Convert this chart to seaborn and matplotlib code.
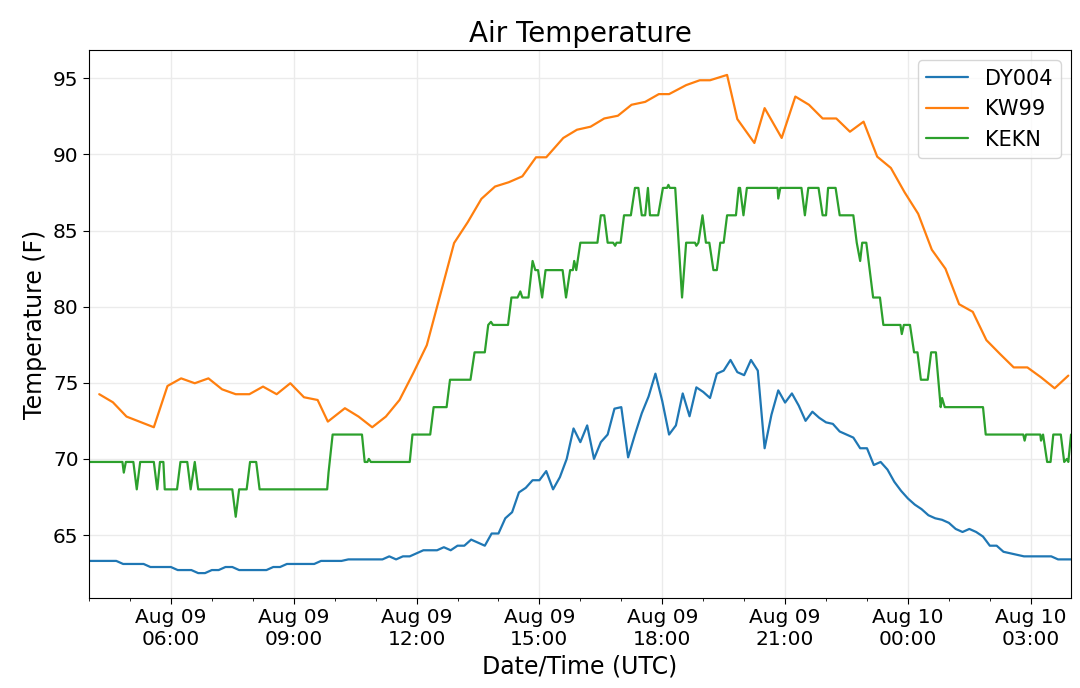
import pandas as pd
import matplotlib
matplotlib.use('Agg')
import matplotlib.pyplot as plt
import matplotlib.dates as mdates
import seaborn as sns

# inicio da serie: 09 ago 04:00 UTC, tempos em minutos a partir dai
inicio = pd.Timestamp('2019-08-09 04:00')

# DY004 (a cada ~10 min)
dy004_min = [0, 40, 50, 80, 90, 120, 130, 150, 160, 170, 180, 190, 200, 210, 220, 260, 270, 280, 290, 330,
             340, 370, 380, 430, 440, 450, 460, 470, 490, 510, 520, 530, 540, 550, 560, 580, 590, 600, 610, 620,
             630, 640, 650, 660, 670, 680, 690, 700, 710, 720, 730, 740, 750, 760, 770, 780, 790, 800, 810, 820,
             830, 840, 850, 860, 870, 880, 890, 900, 910, 920, 930, 940, 950, 960, 970, 980, 990, 1000, 1010, 1020,
             1030, 1040, 1050, 1060, 1070, 1080, 1090, 1100, 1110, 1120, 1130, 1140, 1150, 1160, 1170, 1180, 1190, 1200, 1210, 1220,
             1230, 1240, 1250, 1260, 1270, 1280, 1290, 1300, 1310, 1320, 1330, 1340, 1350, 1360, 1370, 1410, 1420, 1439]
dy004_f = [63.3, 63.3, 63.1, 63.1, 62.9, 62.9, 62.7, 62.7, 62.5, 62.5, 62.7, 62.7, 62.9, 62.9, 62.7, 62.7, 62.9, 62.9, 63.1, 63.1,
           63.3, 63.3, 63.4, 63.4, 63.6, 63.4, 63.6, 63.6, 64.0, 64.0, 64.2, 64.0, 64.3, 64.3, 64.7, 64.3, 65.1, 65.1, 66.1, 66.5,
           67.8, 68.1, 68.6, 68.6, 69.2, 68.0, 68.8, 70.0, 72.0, 71.1, 72.2, 70.0, 71.1, 71.6, 73.3, 73.4, 70.1, 71.6, 73.0, 74.1,
           75.6, 73.8, 71.6, 72.2, 74.3, 72.8, 74.7, 74.4, 74.0, 75.6, 75.8, 76.5, 75.7, 75.5, 76.5, 75.8, 70.7, 72.9, 74.5, 73.7,
           74.3, 73.5, 72.5, 73.1, 72.7, 72.4, 72.3, 71.8, 71.6, 71.4, 70.7, 70.7, 69.6, 69.8, 69.3, 68.5, 67.9, 67.4, 67.0, 66.7,
           66.3, 66.1, 66.0, 65.8, 65.4, 65.2, 65.4, 65.2, 64.9, 64.3, 64.3, 63.9, 63.8, 63.7, 63.6, 63.6, 63.4, 63.4]

# KW99 (a cada ~20 min)
kw99_min = [15, 35, 55, 95, 115, 135, 155, 175, 195, 215, 235, 255, 275, 295, 315, 335, 350, 375, 395, 415,
            435, 455, 475, 495, 535, 555, 575, 595, 615, 635, 655, 670, 695, 715, 735, 755, 775, 795, 815, 835,
            850, 875, 895, 910, 935, 950, 975, 990, 1015, 1035, 1055, 1075, 1095, 1115, 1135, 1155, 1175, 1195, 1215, 1235,
            1255, 1275, 1295, 1315, 1335, 1355, 1375, 1395, 1415, 1435]
kw99_f = [74.25, 73.72, 72.78, 72.08, 74.79, 75.29, 74.97, 75.29, 74.57, 74.25, 74.25, 74.75, 74.25, 74.97, 74.05, 73.87, 72.45, 73.33, 72.78, 72.08,
          72.78, 73.87, 75.62, 77.47, 84.18, 85.55, 87.08, 87.89, 88.17, 88.56, 89.81, 89.81, 91.08, 91.62, 91.82, 92.36, 92.54, 93.26, 93.45, 93.96,
          93.96, 94.55, 94.87, 94.87, 95.22, 92.32, 90.75, 93.04, 91.08, 93.80, 93.26, 92.36, 92.36, 91.49, 92.15, 89.85, 89.11, 87.52, 86.10, 83.74,
          82.49, 80.16, 79.66, 77.80, 76.89, 76.01, 76.01, 75.36, 74.64, 75.47]

# KEKN (ASOS, graus C inteiros convertidos)
kekn_min = [0, 49, 51, 54, 65, 70, 75, 95, 100, 104,
            109, 111, 129, 134, 144, 149, 155, 160, 210, 215,
            220, 231, 236, 245, 250, 349, 351, 357, 400, 404,
            408, 410, 413, 470, 474, 500, 505, 524, 529, 559,
            565, 580, 585, 589, 592, 614, 619, 628, 632, 635,
            644, 650, 654, 658, 664, 669, 694, 699, 705, 709,
            711, 714, 720, 745, 750, 755, 760, 768, 771, 773,
            779, 784, 794, 800, 805, 810, 815, 819, 822, 834,
            841, 847, 849, 851, 859, 869, 875, 888, 890, 893,
            899, 904, 909, 915, 920, 925, 930, 935, 948, 952,
            954, 959, 964, 1009, 1010, 1013, 1044, 1049, 1054, 1069,
            1075, 1080, 1083, 1094, 1100, 1120, 1125, 1130, 1133, 1139,
            1149, 1159, 1164, 1189, 1191, 1194, 1203, 1209, 1214, 1219,
            1229, 1234, 1241, 1248, 1250, 1254, 1310, 1314, 1369, 1371,
            1373, 1394, 1395, 1398, 1404, 1409, 1413, 1424, 1429, 1433,
            1435, 1439]
kekn_f = [69.8, 69.8, 69.1, 69.8, 69.8, 68.0, 69.8, 69.8, 68.0, 69.8,
          69.8, 68.0, 68.0, 69.8, 69.8, 68.0, 69.8, 68.0, 68.0, 66.2,
          68.0, 68.0, 69.8, 69.8, 68.0, 68.0, 69.1, 71.6, 71.6, 69.8,
          69.8, 70.0, 69.8, 69.8, 71.6, 71.6, 73.4, 73.4, 75.2, 75.2,
          77.0, 77.0, 78.8, 79.0, 78.8, 78.8, 80.6, 80.6, 81.0, 80.6,
          80.6, 83.0, 82.4, 82.4, 80.6, 82.4, 82.4, 80.6, 82.4, 82.4,
          83.0, 82.4, 84.2, 84.2, 86.0, 86.0, 84.2, 84.2, 84.0, 84.2,
          84.2, 86.0, 86.0, 87.8, 87.8, 86.0, 86.0, 87.8, 86.0, 86.0,
          87.8, 87.8, 88.0, 87.8, 87.8, 80.6, 84.2, 84.2, 84.0, 84.2,
          86.0, 84.2, 84.2, 82.4, 82.4, 84.2, 84.2, 86.0, 86.0, 87.8,
          87.8, 86.0, 87.8, 87.8, 87.1, 87.8, 87.8, 86.0, 87.8, 87.8,
          86.0, 86.0, 87.8, 87.8, 86.0, 86.0, 84.2, 83.0, 84.2, 84.2,
          80.6, 80.6, 78.8, 78.8, 78.2, 78.8, 78.8, 77.0, 77.0, 75.2,
          75.2, 77.0, 77.0, 73.4, 74.0, 73.4, 73.4, 71.6, 71.6, 71.2,
          71.6, 71.6, 71.2, 71.6, 69.8, 69.8, 71.6, 71.6, 69.8, 70.0,
          69.8, 71.6]

estacoes = ['DY004', 'KW99', 'KEKN']
cores = ['#1f77b4', '#ff7f0e', '#2ca02c']

partes = []
for nome, mins, temps in [('DY004', dy004_min, dy004_f), ('KW99', kw99_min, kw99_f), ('KEKN', kekn_min, kekn_f)]:
    partes.append(pd.DataFrame({
        'tempo': inicio + pd.to_timedelta(mins, unit='min'),
        'temp': temps,
        'estacao': nome,
    }))
df = pd.concat(partes, ignore_index=True)

sns.set_style('ticks', {'axes.grid': True, 'grid.color': '#ebebeb', 'axes.edgecolor': 'black',
                        'text.color': 'black', 'axes.labelcolor': 'black',
                        'xtick.color': 'black', 'ytick.color': 'black'})
plt.rcParams['font.family'] = ['DejaVu Sans']

fig, ax = plt.subplots(figsize=(10.8, 6.88), dpi=100)
fig.subplots_adjust(left=0.0824, right=0.9917, top=0.9273, bottom=0.1308)

sns.lineplot(data=df, x='tempo', y='temp', hue='estacao', hue_order=estacoes,
             palette=cores, estimator=None, sort=True, linewidth=1.6, ax=ax)

ax.margins(x=0)
ax.xaxis.set_major_locator(mdates.HourLocator(byhour=range(0, 24, 3)))
ax.xaxis.set_minor_locator(mdates.HourLocator())
ax.xaxis.set_major_formatter(mdates.DateFormatter('%b %d\n%H:%M'))
ax.set_yticks([65, 70, 75, 80, 85, 90, 95])
ax.tick_params(axis='both', which='major', labelsize=14.5, length=4)
ax.tick_params(axis='x', which='minor', length=2.5)
ax.grid(True, which='major', color='#ebebeb', linewidth=1)

ax.set_title('Air Temperature', fontsize=20)
ax.set_xlabel('Date/Time (UTC)', fontsize=17)
ax.set_ylabel('Temperature (F)', fontsize=17)
ax.legend(title=None, fontsize=15, loc='upper right')
for s in ax.spines.values():
    s.set_visible(True)
    s.set_color('black')

plt.savefig('out.png', dpi=100)
